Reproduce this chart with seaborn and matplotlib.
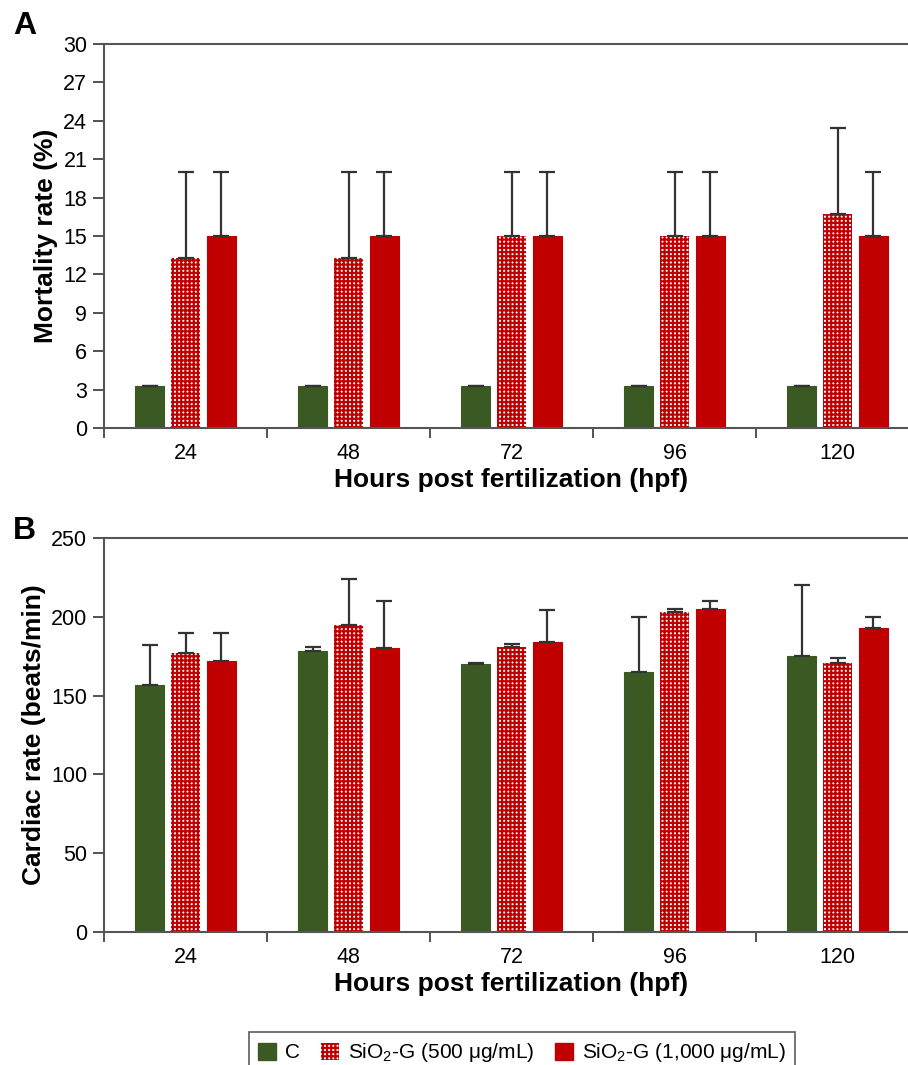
import numpy as np
import pandas as pd
import matplotlib
matplotlib.use("Agg")
import matplotlib.pyplot as plt
import seaborn as sns
from matplotlib.ticker import MultipleLocator, FixedLocator
from matplotlib.patches import Patch

# -----------------------------
# dane
# -----------------------------
hours = ["24", "48", "72", "96", "120"]
groups = ["C", "SiO$_2$-G (500 μg/mL)", "SiO$_2$-G (1,000 μg/mL)"]

mort_c = [3.3, 3.3, 3.3, 3.3, 3.3]
mort_500 = [13.3, 13.3, 15.0, 15.0, 16.7]
mort_1000 = [15.0, 15.0, 15.0, 15.0, 15.0]
mort_c_err = [0.0, 0.0, 0.0, 0.0, 0.0]
mort_500_err = [6.7, 6.7, 5.0, 5.0, 6.7]
mort_1000_err = [5.0, 5.0, 5.0, 5.0, 5.0]

card_c = [157, 178, 170, 165, 175]
card_500 = [177, 195, 181, 203, 171]
card_1000 = [172, 180, 184, 205, 193]
card_c_err = [25, 3, 0.5, 35, 45]
card_500_err = [13, 29, 1.5, 2, 3]
card_1000_err = [18, 30, 20, 5, 7]

green = "#3b5a23"
red = "#c00000"
checker = "++++"


def make_df(c, g500, g1000):
    rows = []
    for vals, g in zip([c, g500, g1000], groups):
        for h, v in zip(hours, vals):
            rows.append({"hpf": h, "group": g, "value": v})
    return pd.DataFrame(rows)


def draw_panel(ax, df, errs, ymax, step, ylabel):
    sns.barplot(data=df, x="hpf", y="value", hue="group", order=hours,
                hue_order=groups, palette=[green, "white", red],
                errorbar=None, width=0.66, gap=0.2, ax=ax, legend=False,
                saturation=1)
    bars = list(ax.containers)[:3]
    for i, cont in enumerate(bars):
        for bar, e in zip(cont, errs[i]):
            if i == 1:
                bar.set_hatch(checker)
                bar.set_edgecolor(red)
                bar.set_linewidth(0)
            else:
                bar.set_edgecolor(bar.get_facecolor())
                bar.set_linewidth(0.8)
            x = bar.get_x() + bar.get_width() / 2
            ax.errorbar(x, bar.get_height(), yerr=[[0], [e]], fmt="none",
                        ecolor="#333333", elinewidth=1.6, capsize=6,
                        capthick=1.6, zorder=3)
    ax.set_xlim(-0.5, 4.5)
    ax.set_ylim(0, ymax)
    ax.yaxis.set_major_locator(MultipleLocator(step))
    ax.xaxis.set_minor_locator(FixedLocator(np.arange(-0.5, 5, 1)))
    ax.tick_params(axis="x", which="major", length=0, labelsize=15.5,
                   pad=11, labelcolor="black")
    ax.tick_params(axis="x", which="minor", length=7, width=1.3,
                   direction="out", color="#444444", bottom=True)
    ax.tick_params(axis="y", length=8, width=1.3, labelsize=15.5,
                   color="#444444", left=True, labelcolor="black", pad=4)
    for s in ["left", "bottom", "top"]:
        ax.spines[s].set_color("#555555")
        ax.spines[s].set_linewidth(1.5)
    ax.spines["right"].set_visible(False)
    ax.set_xlabel("Hours post fertilization (hpf)", fontsize=19,
                  fontweight="bold", color="black", labelpad=3)
    ax.set_ylabel(ylabel, fontsize=19, fontweight="bold", color="black",
                  labelpad=4)


sns.set_style("white")
plt.rcParams["font.family"] = ["Liberation Sans", "DejaVu Sans"]
plt.rcParams["mathtext.fontset"] = "custom"
plt.rcParams["mathtext.rm"] = "Liberation Sans"
plt.rcParams["mathtext.it"] = "Liberation Sans"
plt.rcParams["hatch.linewidth"] = 1.6
plt.rcParams["hatch.color"] = red

fig = plt.figure(figsize=(9.08, 10.65), dpi=100)
W, H = 908, 1065
ax1 = fig.add_axes([104 / W, (H - 428) / H, 815 / W, 384 / H])
ax2 = fig.add_axes([104 / W, (H - 932) / H, 815 / W, 394 / H])

draw_panel(ax1, make_df(mort_c, mort_500, mort_1000),
           [mort_c_err, mort_500_err, mort_1000_err], 30, 3,
           "Mortality rate (%)")
draw_panel(ax2, make_df(card_c, card_500, card_1000),
           [card_c_err, card_500_err, card_1000_err], 250, 50,
           "Cardiac rate (beats/min)")

fig.text(13 / W, 1 - 26 / H, "A", ha="left", va="center", fontsize=23,
         fontweight="bold", color="black")
fig.text(13 / W, 1 - 531 / H, "B", ha="left", va="center", fontsize=23,
         fontweight="bold", color="black")

handles = [Patch(facecolor=green, edgecolor=green),
           Patch(facecolor="white", edgecolor=red, hatch=checker, linewidth=0),
           Patch(facecolor=red, edgecolor=red)]
leg = fig.legend(handles, groups, loc="center", bbox_to_anchor=(522 / W, 1 - 1053 / H),
                 ncol=3, fontsize=15, frameon=True, fancybox=False,
                 handlelength=0.85, handleheight=0.85, handletextpad=0.45,
                 columnspacing=1.0, borderpad=0.45, labelcolor="black")
leg.get_frame().set_edgecolor("#333333")
leg.get_frame().set_linewidth(1.2)

fig.savefig("out.png", dpi=100)
